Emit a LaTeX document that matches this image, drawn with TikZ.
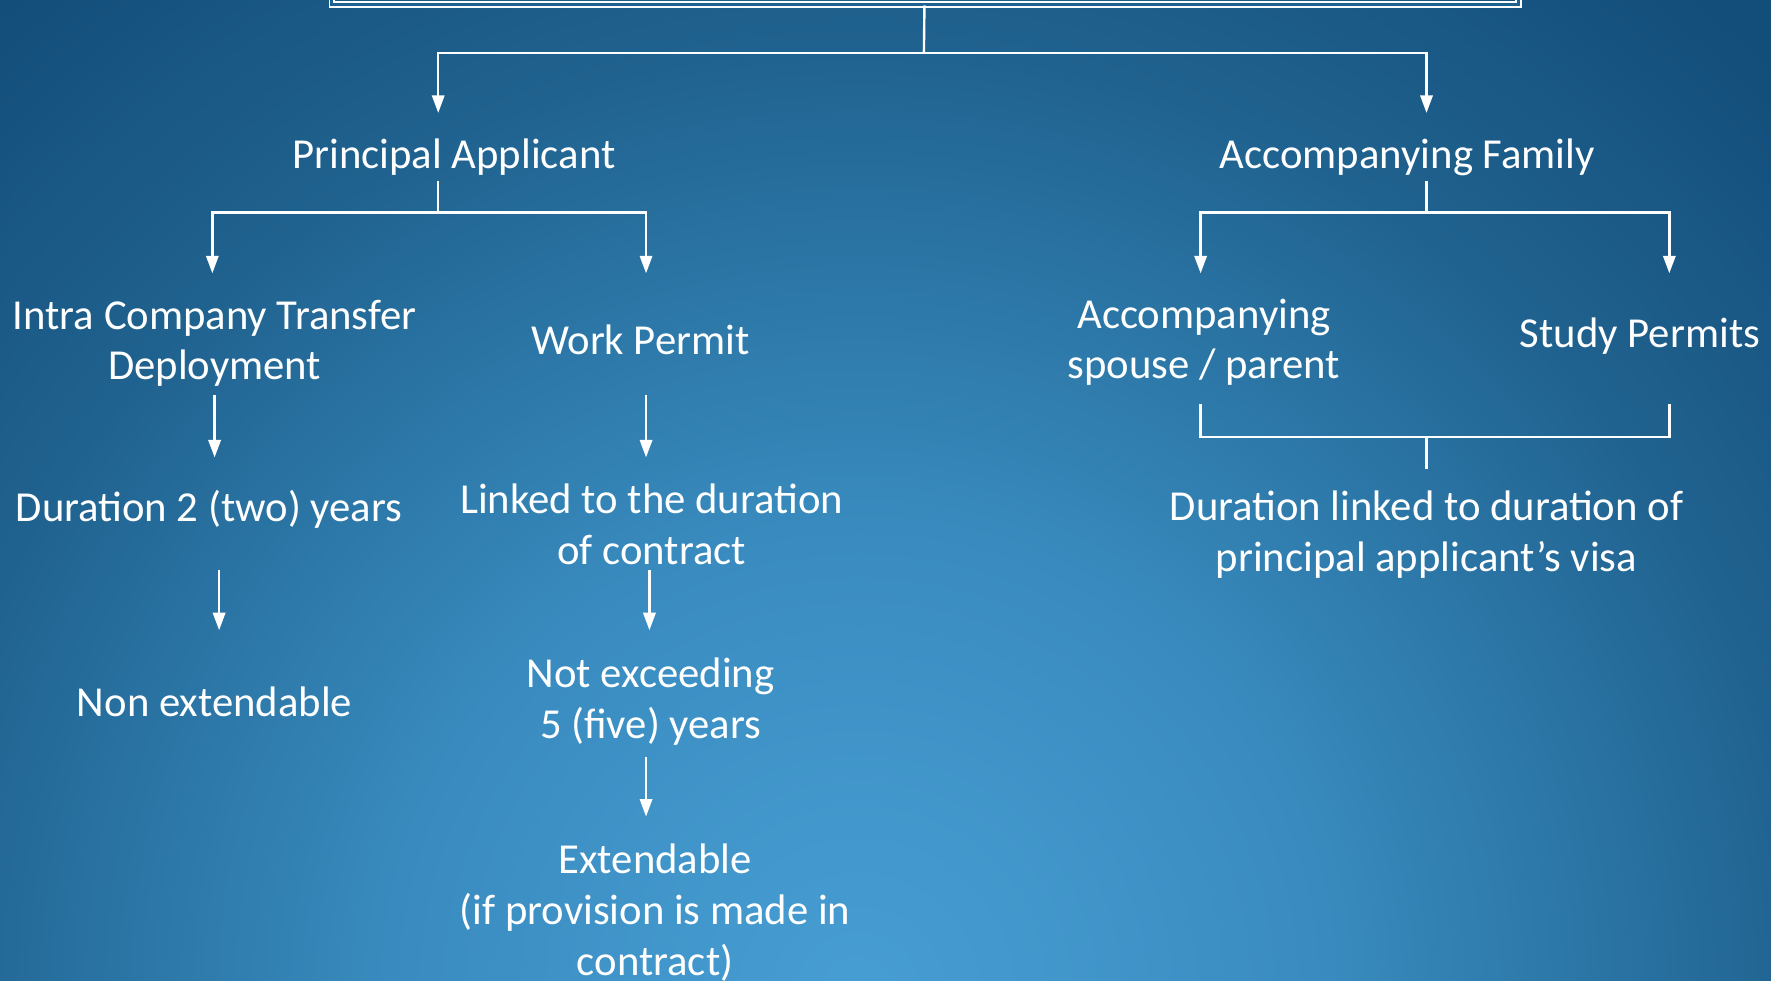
\documentclass[tikz,border=0pt]{standalone}
\usepackage{fontspec}
\setmainfont{Carlito}
\usepackage{tikz}
\usetikzlibrary{arrows.meta, positioning, calc}

\definecolor{bglight}{HTML}{479ED3}
\definecolor{bginner}{HTML}{3A8CC0}
\definecolor{bgmid}{HTML}{2B76A6}
\definecolor{bgouter}{HTML}{20628F}
\definecolor{bgdark}{HTML}{134D7A}
\pgfdeclareradialshading{bgshade}{\pgfpoint{0bp}{0bp}}{color(0bp)=(bglight); color(5bp)=(bginner); color(8bp)=(bgmid); color(10.5bp)=(bgouter); color(14.5bp)=(bgdark); color(50bp)=(bgdark)}

\begin{document}
\begin{tikzpicture}[x=0.01cm, y=-0.01cm, >={Triangle[length=4.4pt, width=3.1pt]},
    label/.style={text=white, align=center, inner sep=0pt, font=\fontsize{10.75}{12.8}\selectfont},
    rootbox/.style={rectangle, draw=white, line width=0.45pt, double=bgouter, double distance=0.7pt, minimum width=10.5cm, minimum height=0.84cm},
    link/.style={draw=white, line width=0.6pt},
    arrow/.style={link, ->},
    point/.style={coordinate}]

    % background
    \useasboundingbox (0,0) rectangle (1568,868);
    \begin{scope}
        \clip (0,0) rectangle (1568,868);
        \shade[shading=bgshade] (760,880) circle (2000);
    \end{scope}

    % boxes and labels
    \node (root) [rootbox] at (819,-38) {};
    \node (princ) [label] at (402,139) {Principal Applicant};
    \node (family) [label] at (1246,139) {Accompanying Family};
    \node (ict) [label] at (190,304) {Intra Company Transfer\\Deployment};
    \node (work) [label] at (567,301) {Work Permit};
    \node (spouse) [label] at (1066,303) {Accompanying\\spouse / parent};
    \node (study) [label] at (1452,298) {Study Permits};
    \node (dur2) [label] at (185,451) {Duration 2 (two) years};
    \node (linked) [label] at (577,464) {Linked to the duration\\of contract};
    \node (durfam) [label] at (1263,473) {Duration linked to duration of\\principal applicant’s visa};
    \node (nonext) [label] at (190,621) {Non extendable};
    \node (notex) [label] at (576,621) {Not exceeding\\5 (five) years};
    \node (ext) [label] at (580,808) {Extendable\\(if provision is made in\\contract)};

    % branch points
    \coordinate (top_split) at (818,47);
    \coordinate (princ_in) at (388,100);
    \coordinate (family_in) at (1263,100);
    \coordinate (princ_out) at (388,160);
    \coordinate (princ_split) at (388,188);
    \coordinate (family_out) at (1263,160);
    \coordinate (family_split) at (1263,188);
    \coordinate (ict_in) at (188,242);
    \coordinate (work_in) at (572,242);
    \coordinate (spouse_in) at (1063,242);
    \coordinate (study_in) at (1478,242);
    \coordinate (ict_out) at (190,350);
    \coordinate (dur2_in) at (190,405);
    \coordinate (work_out) at (572,350);
    \coordinate (linked_in) at (572,405);
    \coordinate (dur2_out) at (194,505);
    \coordinate (nonext_in) at (194,558);
    \coordinate (linked_out) at (575,505);
    \coordinate (notex_in) at (575,558);
    \coordinate (notex_out) at (572,670);
    \coordinate (ext_in) at (572,723);
    \coordinate (spouse_out) at (1063,358);
    \coordinate (study_out) at (1478,358);
    \coordinate (fam_join) at (1263,387);
    \coordinate (durfam_in) at (1263,415);

    % top split
    \draw [link] (root) -- (top_split);
    \draw [arrow] (top_split) -| (princ_in);
    \draw [arrow] (top_split) -| (family_in);

    % principal applicant
    \draw [link] (princ_out) -- (princ_split);
    \draw [arrow] (princ_split) -| (ict_in);
    \draw [arrow] (princ_split) -| (work_in);
    \draw [arrow] (ict_out) -- (dur2_in);
    \draw [arrow] (dur2_out) -- (nonext_in);
    \draw [arrow] (work_out) -- (linked_in);
    \draw [arrow] (linked_out) -- (notex_in);
    \draw [arrow] (notex_out) -- (ext_in);

    % accompanying family
    \draw [link] (family_out) -- (family_split);
    \draw [arrow] (family_split) -| (spouse_in);
    \draw [arrow] (family_split) -| (study_in);
    \draw [link] (spouse_out) |- (fam_join) -| (study_out);
    \draw [link] (fam_join) -- (durfam_in);

\end{tikzpicture}
\end{document}
